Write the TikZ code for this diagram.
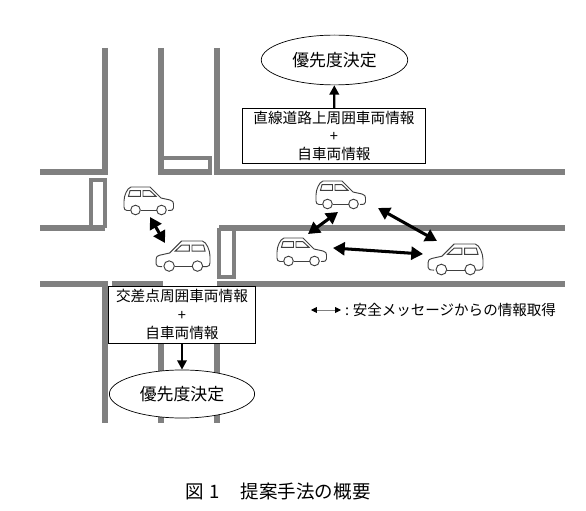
\documentclass[tikz,border=0pt]{standalone}
\usepackage{fontspec}
\setmainfont{Noto Sans CJK JP}
\usetikzlibrary{arrows.meta,shapes.geometric}
\tikzset{
  pics/car/.style={code={
    \draw[carline] (6.5,23.5)--(3,23.5)..controls (1,23.5) and (0,22) .. (0,20)--(0,14)
      ..controls (0,9) and (3,1) .. (7,0)--(26,0)--(37,11)--(46,13)
      ..controls (49,14) and (49.5,15) .. (49.5,17)--(49.5,21)
      ..controls (49.5,23) and (48,23.5) .. (44,23.5);
    \draw[carline] (11.5,23) circle (4.8);
    \draw[carline] (37.5,23) circle (4.8);
    \draw[carline] (16.5,23.5)--(32.5,23.5);
    \draw[carline] (6,3.7)--(16.5,3.7)--(16.5,9.3)--(4.5,9.3)--cycle;
    \draw[carline] (19,3.7)--(26,3.7)--(32,9.3)--(19,9.3)--cycle;
  }}
}
\begin{document}
\begin{tikzpicture}[x=0.03cm,y=-0.03cm,line cap=butt,line join=miter,
  road/.style={draw=roadgray,line width=4.9pt},
  stub/.style={draw=roadgray,line width=3.4pt},
  carline/.style={draw=black!75,line width=0.8pt},
  talk/.style={{Triangle[length=10pt,width=11pt]}-{Triangle[length=10pt,width=11pt]},line width=2.6pt},
  decide/.style={-{Triangle[length=8pt,width=8pt]},line width=2pt},
  infobox/.style={draw,fill=white,line width=0.6pt,align=center,font=\fontsize{12.5}{15.5}\selectfont,inner sep=0pt},
  result/.style={draw,ellipse,fill=white,line width=0.6pt,font=\fontsize{14.4}{17}\selectfont,inner sep=0pt}]
\definecolor{roadgray}{gray}{0.5}
\useasboundingbox (0,0) rectangle (586,511);

% 道路
\draw[road] (105,48)--(105,172)--(40,172);
\draw[road] (161,48)--(161,172)--(212,172);
\draw[road] (217,48)--(217,172)--(565,172);
\draw[road] (40,228)--(105,228);
\draw[road] (219,228)--(565,228);
\draw[road] (40,284)--(105,284)--(105,423);
\draw[road] (112,284)--(163,284);
\draw[road] (217,284)--(565,284);
\draw[road] (161,343)--(161,423);
\draw[road] (217,343)--(217,423);

\draw[stub] (161,158)--(210,158)--(210,172);
\draw[stub] (105,228)--(105,180)--(91,180)--(91,228);
\draw[stub] (219,228)--(219,277)--(234,277)--(234,228);

% 車
\pic at (124,187) {car};
\pic at (316,181) {car};
\pic at (277,238) {car};
\pic[xscale=-1,scale=1.09] at (210,241) {car};
\pic[xscale=-1,scale=1.11] at (483,244) {car};

\coordinate (C1) at (150,217);
\coordinate (C2) at (165,243);
\coordinate (C3) at (338,212);
\coordinate (C4) at (308,234);
\coordinate (C5) at (378,208);
\coordinate (C6) at (437,241);
\coordinate (C7) at (333,248);
\coordinate (C8) at (423,254);
\draw[talk] (C1)--(C2);
\draw[talk] (C3)--(C4);
\draw[talk] (C5)--(C6);
\draw[talk] (C7)--(C8);

% 上
\node[result,minimum width=125pt,minimum height=42.5pt] (resultT) at (334.5,60) {優先度決定};
\node[infobox,minimum width=156.5pt,minimum height=47.5pt] (infoT) at (334,136) {直線道路上周囲車両情報\\+\\自車両情報};
\draw[decide] (infoT)--(resultT);

% 下
\node[infobox,minimum width=126pt,minimum height=48.5pt] (infoB) at (182,314.5) {交差点周囲車両情報\\+\\自車両情報};
\node[result,minimum width=124pt,minimum height=41pt] (resultB) at (182,394) {優先度決定};
\draw[decide] (infoB)--(resultB);

% 凡例
\coordinate (L1) at (311,310);
\coordinate (L2) at (341,310);
\draw[{Triangle[length=5pt,width=5pt,color=black]}-{Triangle[length=5pt,width=5pt,color=black]},draw=black!50,line width=0.6pt] (L1)--(L2);
\node[right,inner sep=0pt,font=\fontsize{12.4}{15}\selectfont] (legend) at (345,310) {:\hspace{3pt}安全メッセージからの情報取得};

\node[right,inner sep=0pt,font=\fontsize{15.8}{18}\selectfont] (caption) at (185,491) {図\hspace{5pt}1\hspace{18pt}提案手法の概要};
\end{tikzpicture}
\end{document}
